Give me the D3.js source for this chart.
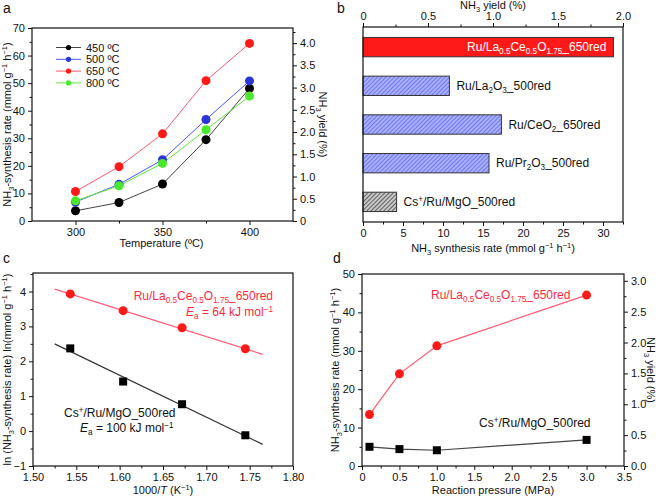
<!DOCTYPE html>
<html><head><meta charset="utf-8">
<script src="https://cdn.jsdelivr.net/npm/d3@7"></script>
<style>
body{margin:0;background:#fff;}
svg{display:block;font-family:"Liberation Sans",Arial,sans-serif;}
</style></head>
<body>
<script>
// ---------- DATA ----------
// Panel a
const temps = [300, 325, 350, 375, 400];
const seriesNamesA = ["450 ºC", "500 ºC", "650 ºC", "800 ºC"];
const rate450 = [3.7, 6.7, 13.4, 29.5, 48.1];
const rate500 = [6.9, 13.3, 22.2, 36.8, 50.8];
const rate650 = [10.7, 19.7, 31.6, 50.9, 64.4];
const rate800 = [7.3, 12.8, 20.9, 33.1, 45.3];
// Panel b
const catalystsB = ["Ru/La0.5Ce0.5O1.75_650red", "Ru/La2O3_500red", "Ru/CeO2_650red", "Ru/Pr2O3_500red", "Cs+/Ru/MgO_500red"];
const ratesB = [31.3, 10.8, 17.3, 15.75, 4.2];
// Panel c
const invT = [1.543, 1.604, 1.672, 1.745];
const lnRateRu = [3.93, 3.45, 2.96, 2.36];
const lnRateCs = [2.37, 1.42, 0.77, -0.12];
const fitX = [1.525, 1.765];
const fitRu = [4.07, 2.20];
const fitCs = [2.50, -0.38];
// Panel d
const pressures = [0.1, 0.5, 1.0, 3.0];
const pressRu = [13.4, 24.0, 31.3, 44.5];
const pressCs = [5.0, 4.4, 4.1, 6.8];
// tick labels
const ticksAx = [300, 350, 400];
const ticksAy = [0, 10, 20, 30, 40, 50, 60, 70];
const ticksAyR = [0, 0.5, 1.0, 1.5, 2.0, 2.5, 3.0, 3.5, 4.0];
const ticksBx = [0, 5, 10, 15, 20, 25, 30];
const ticksBtop = [0, 0.5, 1.0, 1.5, 2.0];
const ticksCx = [1.50, 1.55, 1.60, 1.65, 1.70, 1.75, 1.80];
const ticksCy = [-1, 0, 1, 2, 3, 4];
const ticksDx = [0, 0.5, 1.0, 1.5, 2.0, 2.5, 3.0, 3.5];
const ticksDy = [0, 10, 20, 30, 40, 50];
const ticksDyR = [0, 0.5, 1.0, 1.5, 2.0, 2.5, 3.0];

// rich label parts: [text, kind]  kind: n / sub / sup / i
const richLabels = {
  "Ru/La0.5Ce0.5O1.75_650red": [["Ru/La","n"],["0.5","sub"],["Ce","n"],["0.5","sub"],["O","n"],["1.75","sub"],["_650red","n"]],
  "Ru/La2O3_500red": [["Ru/La","n"],["2","sub"],["O","n"],["3","sub"],["_500red","n"]],
  "Ru/CeO2_650red": [["Ru/CeO","n"],["2","sub"],["_650red","n"]],
  "Ru/Pr2O3_500red": [["Ru/Pr","n"],["2","sub"],["O","n"],["3","sub"],["_500red","n"]],
  "Cs+/Ru/MgO_500red": [["Cs","n"],["+","sup"],["/Ru/MgO_500red","n"]]
};

// ---------- HELPERS ----------
const W = 661, H = 498, FS = 11;
const svg = d3.select("body").append("svg").attr("width", W).attr("height", H);

function rich(sel, parts, fs) {
  let shift = 0;
  parts.forEach(([t, k]) => {
    const ts = sel.append("tspan").text(t);
    let target = 0, size = fs;
    if (k === "sub") { target = 0.26 * fs; size = 0.68 * fs; }
    if (k === "sup") { target = -0.36 * fs; size = 0.68 * fs; }
    if (k === "i") ts.attr("font-style", "italic");
    ts.attr("dy", target - shift).attr("font-size", size);
    shift = target;
  });
  return sel;
}

function drawAxis(g, axisGen, scale, ticks, minor, fmt, tx, ty) {
  const major = axisGen(scale).tickValues(ticks).tickFormat(fmt).tickSizeOuter(0).tickSize(4).tickPadding(3);
  const ga = g.append("g").attr("transform", `translate(${tx},${ty})`).call(major);
  ga.select(".domain").remove();
  ga.selectAll("text").attr("font-size", FS).attr("fill", "#111").attr("font-family", "'Liberation Sans',Arial,sans-serif");
  ga.selectAll("line").attr("stroke", "#111");
  if (minor && minor.length) {
    const mi = axisGen(scale).tickValues(minor).tickFormat("").tickSizeOuter(0).tickSize(2.5);
    const gm = g.append("g").attr("transform", `translate(${tx},${ty})`).call(mi);
    gm.select(".domain").remove();
    gm.selectAll("line").attr("stroke", "#111");
  }
  return ga;
}

function box(g, x0, y0, x1, y1) {
  g.append("rect").attr("x", x0).attr("y", y0).attr("width", x1 - x0).attr("height", y1 - y0)
    .attr("fill", "none").attr("stroke", "#111").attr("stroke-width", 1.2);
}

function panelLetter(t, x, y) {
  svg.append("text").attr("x", x).attr("y", y).attr("font-size", 14).attr("fill", "#111").text(t);
}

function yTitle(x, y, parts, rot) {
  const t = svg.append("text").attr("transform", `translate(${x},${y}) rotate(${rot})`)
    .attr("text-anchor", "middle").attr("font-size", FS).attr("fill", "#111");
  rich(t, parts, FS);
}

function range(a, b, s) { const r = []; for (let v = a; v <= b + 1e-9; v += s) r.push(+v.toFixed(4)); return r; }

// ---------- PANEL A ----------
{
  const L = 32, R = 293, T = 28, B = 221;
  const g = svg.append("g");
  const x = d3.scaleLinear().domain([275, 425]).range([L, R]);
  const y = d3.scaleLinear().domain([0, 70]).range([B, T]);
  const yR = d3.scaleLinear().domain([0, 4.34]).range([B, T]);
  drawAxis(g, d3.axisBottom, x, ticksAx, [325, 375], d3.format("d"), 0, B);
  drawAxis(g, d3.axisLeft, y, ticksAy, range(5, 65, 10), d3.format("d"), L, 0);
  drawAxis(g, d3.axisRight, yR, ticksAyR, range(0.25, 4.25, 0.5), d => d === 0 ? "0" : d3.format(".1f")(d), R, 0);
  box(g, L, T, R, B);
  const series = [
    { name: seriesNamesA[0], vals: rate450, line: "#444", dot: "#000" },
    { name: seriesNamesA[1], vals: rate500, line: "#4a55ff", dot: "#2b35d8" },
    { name: seriesNamesA[3], vals: rate800, line: "#5fe83a", dot: "#48e82a" },
    { name: seriesNamesA[2], vals: rate650, line: "#ff5a70", dot: "#ff1a1a" }
  ];
  const line = d3.line().x((d, i) => x(temps[i])).y(d => y(d));
  series.forEach(s => {
    g.append("path").attr("d", line(s.vals)).attr("fill", "none").attr("stroke", s.line).attr("stroke-width", 1);
  });
  [series[0], series[1], series[3], series[2]].forEach(s => {
    g.selectAll(null).data(s.vals).enter().append("circle")
      .attr("cx", (d, i) => x(temps[i])).attr("cy", d => y(d)).attr("r", 4.5).attr("fill", s.dot);
  });
  // legend
  const leg = [series[0], series[1], series[3], series[2]];
  leg.forEach((s, i) => {
    const ly = 47.5 + i * 11.8;
    g.append("line").attr("x1", 56).attr("x2", 81).attr("y1", ly).attr("y2", ly).attr("stroke", s.line).attr("stroke-width", 1);
    g.append("circle").attr("cx", 68.5).attr("cy", ly).attr("r", 2.6).attr("fill", s.dot);
    g.append("text").attr("x", 86).attr("y", ly + 4).attr("font-size", FS).attr("fill", "#111").text(s.name);
  });
  svg.append("text").attr("x", (L + R) / 2 - 1).attr("y", 247).attr("text-anchor", "middle").attr("font-size", FS).attr("fill", "#111").text("Temperature  (ºC)");
  yTitle(11, (T + B) / 2, [["NH","n"],["3","sub"],["-synthesis rate (mmol g","n"],["−1","sup"],[" h","n"],["−1","sup"],[")","n"]], -90);
  yTitle(319, (T + B) / 2, [["NH","n"],["3","sub"],[" yield (%)","n"]], 90);
  panelLetter("a", 3, 13);
}

// ---------- PANEL B ----------
{
  const L = 363, R = 623, T = 27, B = 222;
  const g = svg.append("g");
  const defs = svg.append("defs");
  const p1 = defs.append("pattern").attr("id", "hatchBlue").attr("patternUnits", "userSpaceOnUse").attr("width", 3).attr("height", 3)
    .attr("patternTransform", "rotate(45)");
  p1.append("rect").attr("width", 3).attr("height", 3).attr("fill", "#a9b0ff");
  p1.append("line").attr("x1", 0).attr("y1", 0).attr("x2", 0).attr("y2", 3).attr("stroke", "#4f58e6").attr("stroke-width", 1.3);
  const p2 = defs.append("pattern").attr("id", "hatchGray").attr("patternUnits", "userSpaceOnUse").attr("width", 3).attr("height", 3)
    .attr("patternTransform", "rotate(45)");
  p2.append("rect").attr("width", 3).attr("height", 3).attr("fill", "#c8c8c8");
  p2.append("line").attr("x1", 0).attr("y1", 0).attr("x2", 0).attr("y2", 3).attr("stroke", "#333").attr("stroke-width", 1.4);

  const x = d3.scaleLinear().domain([0, 32.5]).range([L, R]);
  const xTop = d3.scaleLinear().domain([0, 2.0]).range([L, R]);
  const y = d3.scaleBand().domain(catalystsB).range([T, B]).paddingInner(0.5).paddingOuter(0.27);
  drawAxis(g, d3.axisBottom, x, ticksBx, range(2.5, 32.5, 5), d3.format("d"), 0, B);
  drawAxis(g, d3.axisTop, xTop, ticksBtop, range(0.25, 1.75, 0.5), d => d === 0 ? "0" : d3.format(".1f")(d), 0, T);
  const fills = ["#ff1a1a", "url(#hatchBlue)", "url(#hatchBlue)", "url(#hatchBlue)", "url(#hatchGray)"];
  g.selectAll(null).data(catalystsB).enter().append("rect")
    .attr("x", x(0)).attr("y", d => y(d)).attr("height", y.bandwidth())
    .attr("width", (d, i) => x(ratesB[i]) - x(0))
    .attr("fill", (d, i) => fills[i]).attr("stroke", "#333").attr("stroke-width", 1);
  catalystsB.forEach((c, i) => {
    const inside = i === 0;
    const t = g.append("text").attr("font-size", FS + 1)
      .attr("x", inside ? x(ratesB[i]) - 7 : x(ratesB[i]) + 7)
      .attr("y", y(c) + y.bandwidth() / 2 + 4)
      .attr("text-anchor", inside ? "end" : "start")
      .attr("fill", inside ? "#fff" : "#111");
    rich(t, richLabels[c], FS + 1);
  });
  box(g, L, T, R, B);
  const tt = svg.append("text").attr("x", (L + R) / 2).attr("y", 9).attr("text-anchor", "middle").attr("font-size", FS).attr("fill", "#111");
  rich(tt, [["NH","n"],["3","sub"],[" yield (%)","n"]], FS);
  const tb = svg.append("text").attr("x", (L + R) / 2).attr("y", 252).attr("text-anchor", "middle").attr("font-size", FS).attr("fill", "#111");
  rich(tb, [["NH","n"],["3","sub"],[" synthesis rate (mmol g","n"],["−1","sup"],[" h","n"],["−1","sup"],[")","n"]], FS);
  panelLetter("b", 337, 13);
}

// ---------- PANEL C ----------
{
  const L = 33, R = 293, T = 273, B = 466;
  const g = svg.append("g");
  const x = d3.scaleLinear().domain([1.50, 1.80]).range([L, R]);
  const y = d3.scaleLinear().domain([-1, 4.53]).range([B, T]);
  drawAxis(g, d3.axisBottom, x, ticksCx, range(1.525, 1.775, 0.05), d3.format(".2f"), 0, B);
  drawAxis(g, d3.axisLeft, y, ticksCy, range(-0.5, 4.5, 1), d3.format("d"), L, 0);
  box(g, L, T, R, B);
  const ln = d3.line().x((d, i) => x(fitX[i])).y(d => y(d));
  g.append("path").attr("d", ln(fitRu)).attr("stroke", "#ff5c78").attr("stroke-width", 1.2).attr("fill", "none");
  g.append("path").attr("d", ln(fitCs)).attr("stroke", "#333").attr("stroke-width", 1.2).attr("fill", "none");
  g.selectAll(null).data(lnRateRu).enter().append("circle")
    .attr("cx", (d, i) => x(invT[i])).attr("cy", d => y(d)).attr("r", 4.5).attr("fill", "#ff1a1a");
  g.selectAll(null).data(lnRateCs).enter().append("rect")
    .attr("x", (d, i) => x(invT[i]) - 4).attr("y", d => y(d) - 4).attr("width", 8).attr("height", 8).attr("fill", "#000");
  const t1 = g.append("text").attr("x", 273).attr("y", 300).attr("text-anchor", "end").attr("font-size", FS + 1).attr("fill", "#ff2a3c");
  rich(t1, richLabels["Ru/La0.5Ce0.5O1.75_650red"], FS + 1);
  const t2 = g.append("text").attr("x", 273).attr("y", 316).attr("text-anchor", "end").attr("font-size", FS + 1).attr("fill", "#ff2a3c");
  rich(t2, [["E","i"],["a","sub"],[" = 64 kJ mol","n"],["−1","sup"]], FS + 1);
  const t3 = g.append("text").attr("x", 64).attr("y", 417).attr("font-size", FS + 1).attr("fill", "#111");
  rich(t3, richLabels["Cs+/Ru/MgO_500red"], FS + 1);
  const t4 = g.append("text").attr("x", 80).attr("y", 432).attr("font-size", FS + 1).attr("fill", "#111");
  rich(t4, [["E","i"],["a","sub"],[" = 100 kJ mol","n"],["−1","sup"]], FS + 1);
  const xt = svg.append("text").attr("x", (L + R) / 2).attr("y", 494).attr("text-anchor", "middle").attr("font-size", FS).attr("fill", "#111");
  rich(xt, [["1000/","n"],["T","i"],[" (K","n"],["−1","sup"],[")","n"]], FS);
  yTitle(11, (T + B) / 2, [["ln (NH","n"],["3","sub"],["-synthesis rate) ln(mmol g","n"],["−1","sup"],[" h","n"],["−1","sup"],[")","n"]], -90);
  panelLetter("c", 3, 263);
}

// ---------- PANEL D ----------
{
  const L = 362, R = 624, T = 274, B = 466;
  const g = svg.append("g");
  const x = d3.scaleLinear().domain([0, 3.5]).range([L, R]);
  const y = d3.scaleLinear().domain([0, 50]).range([B, T]);
  const yR = d3.scaleLinear().domain([0, 3.11]).range([B, T]);
  drawAxis(g, d3.axisBottom, x, ticksDx, range(0.25, 3.25, 0.5), d => d === 0 ? "0" : d3.format(".1f")(d), 0, B);
  drawAxis(g, d3.axisLeft, y, ticksDy, range(5, 45, 10), d3.format("d"), L, 0);
  drawAxis(g, d3.axisRight, yR, ticksDyR, range(0.25, 2.75, 0.5), d3.format(".1f"), R, 0);
  box(g, L, T, R, B);
  const ln = d3.line().x((d, i) => x(pressures[i])).y(d => y(d));
  g.append("path").attr("d", ln(pressRu)).attr("stroke", "#ff5a70").attr("stroke-width", 1.2).attr("fill", "none");
  g.append("path").attr("d", ln(pressCs)).attr("stroke", "#444").attr("stroke-width", 1.2).attr("fill", "none");
  g.selectAll(null).data(pressRu).enter().append("circle")
    .attr("cx", (d, i) => x(pressures[i])).attr("cy", d => y(d)).attr("r", 4.5).attr("fill", "#ff1a1a");
  g.selectAll(null).data(pressCs).enter().append("rect")
    .attr("x", (d, i) => x(pressures[i]) - 4).attr("y", d => y(d) - 4).attr("width", 8).attr("height", 8).attr("fill", "#000");
  const t1 = g.append("text").attr("x", 431).attr("y", 299).attr("font-size", FS + 1).attr("fill", "#ff2a3c");
  rich(t1, richLabels["Ru/La0.5Ce0.5O1.75_650red"], FS + 1);
  const t2 = g.append("text").attr("x", 479).attr("y", 427).attr("font-size", FS + 1).attr("fill", "#111");
  rich(t2, richLabels["Cs+/Ru/MgO_500red"], FS + 1);
  svg.append("text").attr("x", (L + R) / 2).attr("y", 494).attr("text-anchor", "middle").attr("font-size", FS).attr("fill", "#111").text("Reaction pressure (MPa)");
  yTitle(339, (T + B) / 2, [["NH","n"],["3","sub"],["-synthesis rate (mmol g","n"],["−1","sup"],[" h","n"],["−1","sup"],[")","n"]], -90);
  yTitle(647, (T + B) / 2, [["NH","n"],["3","sub"],[" yield (%)","n"]], 90);
  panelLetter("d", 333, 263);
}
</script>
</body></html>
